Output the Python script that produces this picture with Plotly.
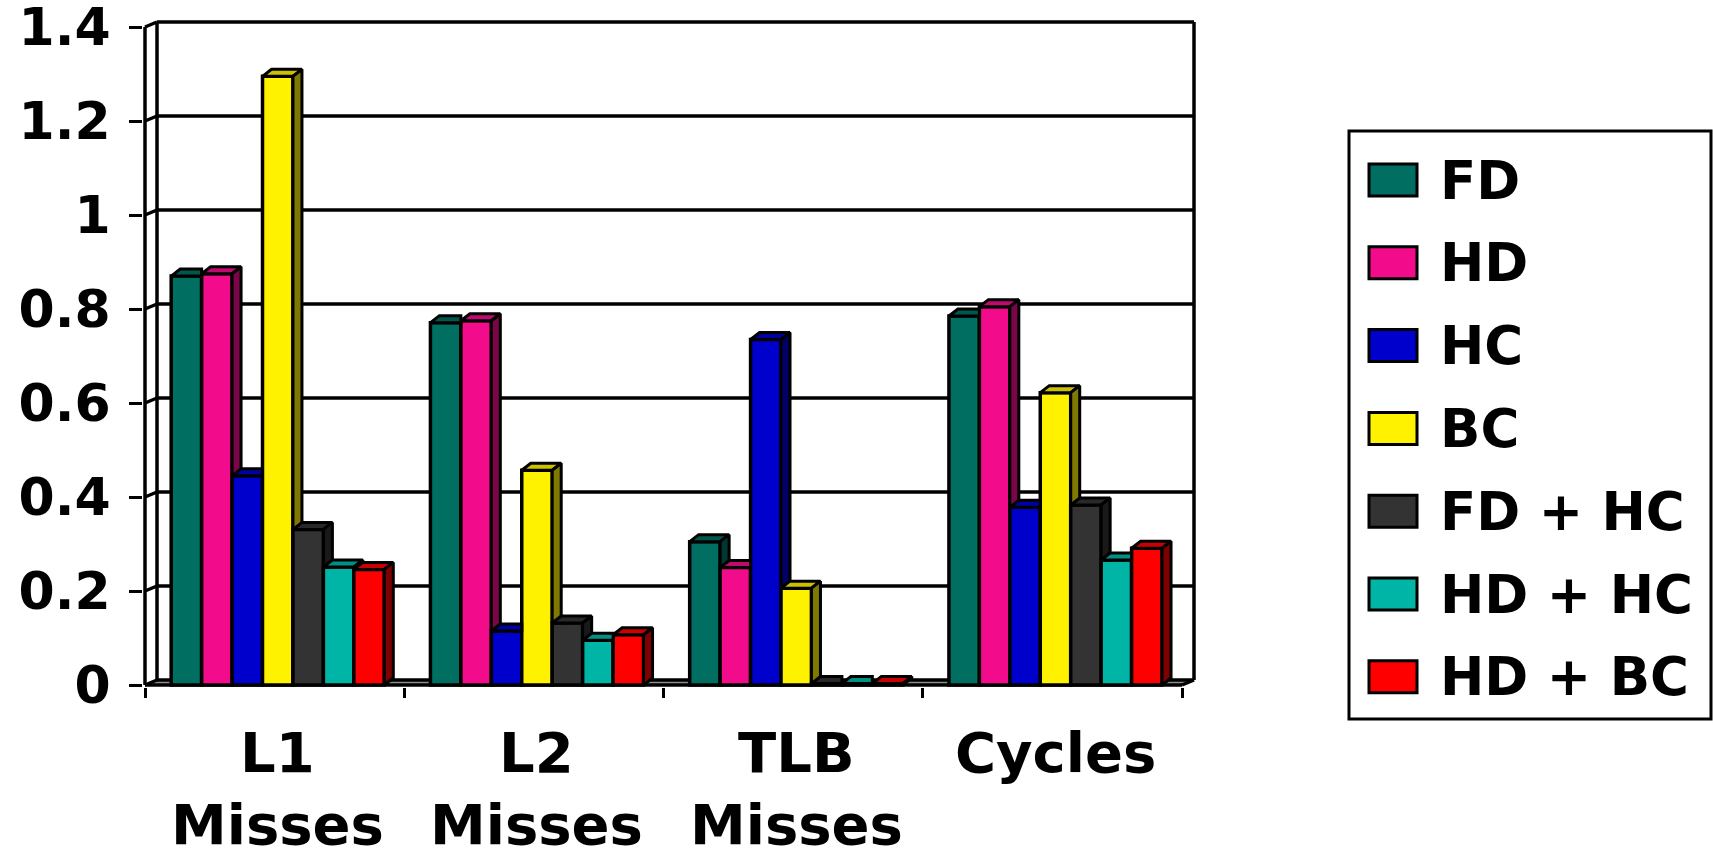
import plotly.graph_objects as go

# ---- data -------------------------------------------------------------
category_line1 = ["L1", "L2", "TLB", "Cycles"]
category_line2 = ["Misses", "Misses", "Misses", ""]

series_names = ["FD", "HD", "HC", "BC", "FD + HC", "HD + HC", "HD + BC"]
fd = [0.870, 0.771, 0.305, 0.785]
hd = [0.875, 0.775, 0.250, 0.805]
hc = [0.445, 0.115, 0.735, 0.378]
bc = [1.295, 0.457, 0.206, 0.622]
fd_hc = [0.331, 0.132, 0.003, 0.383]
hd_hc = [0.251, 0.095, 0.003, 0.266]
hd_bc = [0.246, 0.107, 0.003, 0.291]
series_values = [fd, hd, hc, bc, fd_hc, hd_hc, hd_bc]

y_tick_values = [0, 0.2, 0.4, 0.6, 0.8, 1.0, 1.2, 1.4]
y_tick_labels = ["0", "0.2", "0.4", "0.6", "0.8", "1", "1.2", "1.4"]

# ---- style ------------------------------------------------------------
colors = ["#006F61", "#F20C8C", "#0000CC", "#FFF200", "#333333", "#00B5A5", "#FF0000"]
FONT = dict(family="DejaVu Sans", color="black", weight="bold")

W, H = 1713, 853
M_L, M_R, M_T, M_B = 143, 517, 20, 166
PX_X = 259.25            # pixels per category
PX_Y = 470.0             # pixels per unit of value
plot_w = W - M_L - M_R
plot_h = H - M_T - M_B
x_min = -2 / PX_X
y_min = -2 / PX_Y
x_range = [x_min, x_min + plot_w / PX_X]
y_range = [y_min, y_min + plot_h / PX_Y]

n_cat = len(category_line1)
n_ser = len(series_names)
x_pos = [i + 0.5 for i in range(n_cat)]
group_shift = 0.012
bargap = 0.178
bar_w = (1 - bargap) / n_ser

# 3-D depth of the chart walls and of the bars, in data units
wall_dx, wall_dy = 12 / PX_X, 5 / PX_Y
bar_dx, bar_dy = 9 / PX_X, 7 / PX_Y
LW = 3.5


def shade(hex_color, f):
    h = hex_color.lstrip("#")
    r, g, b = (int(h[i:i + 2], 16) for i in (0, 2, 4))
    return "#%02X%02X%02X" % (int(r * f), int(g * f), int(b * f))


def paper_x(px):
    return (px - M_L) / plot_w


def paper_y(py):
    return (H - M_B - py) / plot_h


fig = go.Figure()

# front faces of the bars
for name, vals, col in zip(series_names, series_values, colors):
    fig.add_trace(go.Bar(
        x=[x + group_shift for x in x_pos], y=vals, name=name,
        marker=dict(color=col, line=dict(color="black", width=LW)),
        showlegend=False, hoverinfo="skip",
    ))


def face(xs, ys, fill):
    fig.add_trace(go.Scatter(
        x=xs + [xs[0]], y=ys + [ys[0]], mode="lines", fill="toself",
        fillcolor=fill, line=dict(color="black", width=3),
        showlegend=False, hoverinfo="skip",
    ))


# top and side faces, painted left to right so neighbours overlap correctly
for c in range(n_cat):
    left0 = x_pos[c] + group_shift - (1 - bargap) / 2
    for i in range(n_ser):
        v = series_values[i][c]
        nxt = series_values[i + 1][c] if i + 1 < n_ser else None
        L = left0 + i * bar_w
        R = L + bar_w
        if nxt is not None and nxt >= v:
            face([L, R, R, L + bar_dx], [v, v, v + bar_dy, v + bar_dy], shade(colors[i], 0.8))
        else:
            face([L, R, R + bar_dx, L + bar_dx], [v, v, v + bar_dy, v + bar_dy], shade(colors[i], 0.8))
        if nxt is None:
            face([R, R + bar_dx, R + bar_dx, R], [0, bar_dy, v + bar_dy, v], shade(colors[i], 0.5))
        elif nxt < v:
            face([R, R + bar_dx, R + bar_dx, R], [nxt, nxt, v + bar_dy, v], shade(colors[i], 0.5))

# walls, floor and axis lines
shapes = []
x_end = float(n_cat)
y_top = y_tick_values[-1]
line = dict(color="black", width=LW)
shapes.append(dict(type="path", xref="x", yref="y", layer="below",
                   path=f"M 0,0 L {x_end},0 L {x_end + wall_dx},{wall_dy} L {wall_dx},{wall_dy} Z",
                   fillcolor="#8C8C8C", line=dict(width=0)))
for v in y_tick_values:
    shapes.append(dict(type="line", xref="x", yref="y", layer="below",
                       x0=wall_dx, x1=x_end + wall_dx, y0=v + wall_dy, y1=v + wall_dy, line=line))
    shapes.append(dict(type="line", xref="x", yref="y", layer="below",
                       x0=0, x1=wall_dx, y0=v, y1=v + wall_dy, line=line))
for xx in (wall_dx, x_end + wall_dx):
    shapes.append(dict(type="line", xref="x", yref="y", layer="below",
                       x0=xx, x1=xx, y0=wall_dy, y1=y_top + wall_dy, line=line))
shapes.append(dict(type="line", xref="x", yref="y", layer="below",
                   x0=0, x1=0, y0=0, y1=y_top, line=line))
shapes.append(dict(type="line", xref="x", yref="y", layer="below",
                   x0=0, x1=x_end, y0=0, y1=0, line=line))
shapes.append(dict(type="line", xref="x", yref="y", layer="below",
                   x0=x_end, x1=x_end + wall_dx, y0=0, y1=wall_dy, line=line))

# legend box
annotations = []
lg_left, lg_right, lg_top, lg_bottom = 1349, 1711, 131, 719
shapes.append(dict(type="rect", xref="paper", yref="paper",
                   x0=paper_x(lg_left), x1=paper_x(lg_right),
                   y0=paper_y(lg_bottom), y1=paper_y(lg_top),
                   line=dict(color="black", width=3), fillcolor="white"))
row0, row_step = 180, 82.8
for k, (name, col) in enumerate(zip(series_names, colors)):
    cy = row0 + k * row_step
    shapes.append(dict(type="rect", xref="paper", yref="paper",
                       x0=paper_x(1369), x1=paper_x(1417),
                       y0=paper_y(cy + 16), y1=paper_y(cy - 16),
                       line=dict(color="black", width=3), fillcolor=col))
    annotations.append(dict(xref="paper", yref="paper", x=paper_x(1438), y=paper_y(cy),
                            xanchor="left", yanchor="middle", showarrow=False,
                            text=name, font=dict(FONT, size=53)))

# category labels, two lines each
for xc, t1, t2 in zip(x_pos, category_line1, category_line2):
    annotations.append(dict(xref="x", yref="paper", x=xc + group_shift, y=paper_y(752),
                            xanchor="center", yanchor="middle", showarrow=False,
                            text=t1, font=dict(FONT, size=56)))
    if t2:
        annotations.append(dict(xref="x", yref="paper", x=xc + group_shift, y=paper_y(824),
                                xanchor="center", yanchor="middle", showarrow=False,
                                text=t2, font=dict(FONT, size=56)))

fig.update_layout(
    width=W, height=H, autosize=False,
    margin=dict(l=M_L, r=M_R, t=M_T, b=M_B, pad=0),
    plot_bgcolor="white", paper_bgcolor="white",
    barmode="group", bargap=bargap, bargroupgap=0,
    shapes=shapes, annotations=annotations, showlegend=False,
    xaxis=dict(range=x_range, showgrid=False, zeroline=False, showline=False,
               tickvals=list(range(n_cat + 1)), ticks="outside", ticklen=10,
               tickwidth=3, tickcolor="black", showticklabels=False,
               automargin=False, fixedrange=True),
    yaxis=dict(range=y_range, showgrid=False, zeroline=False, showline=False,
               tickvals=y_tick_values, ticktext=y_tick_labels, ticks="outside",
               ticklen=13, tickwidth=3, tickcolor="black", ticklabeloverflow="allow",
               tickfont=dict(FONT, size=52), ticklabelstandoff=8,
               automargin=False, fixedrange=True),
)

fig.write_html("out.html")
